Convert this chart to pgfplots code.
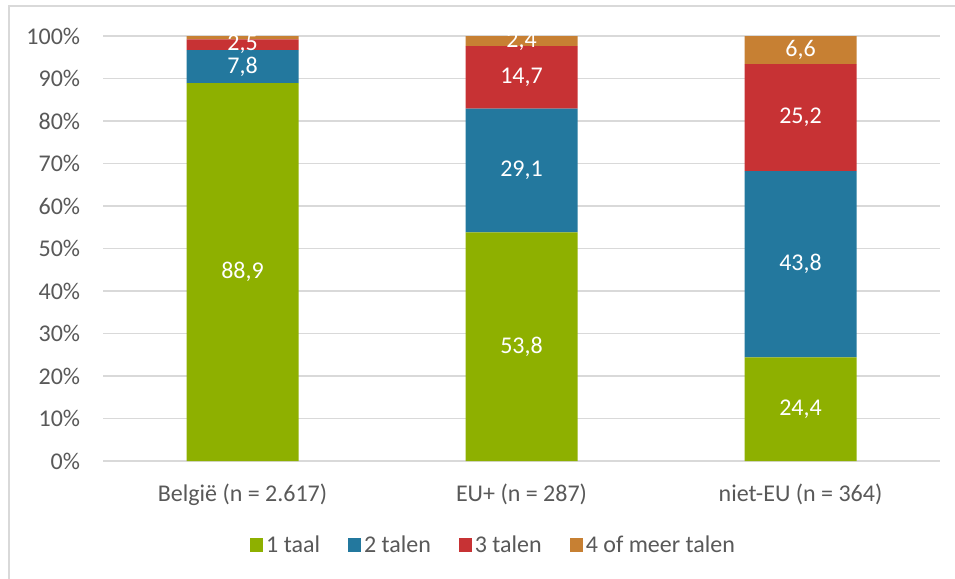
\documentclass[border=0pt]{standalone}
\usepackage{pgfplots}
\pgfplotsset{compat=1.18}
\usepackage{pgfplotstable}
\usepackage{fontspec}
\setmainfont{Carlito}
\definecolor{cgreen}{HTML}{8EB000}
\definecolor{cblue}{HTML}{23789E}
\definecolor{cred}{HTML}{C73234}
\definecolor{corange}{HTML}{C78033}
\definecolor{cgrid}{HTML}{D9D9D9}
\definecolor{ctext}{HTML}{595959}

\pgfplotstableread{
x v lab
0 88.9 88,9
1 53.8 53,8
2 24.4 24,4
}\taalA
\pgfplotstableread{
x v lab
0 7.8 7,8
1 29.1 29,1
2 43.8 43,8
}\taalB
\pgfplotstableread{
x v lab
0 2.5 2,5
1 14.7 14,7
2 25.2 25,2
}\taalC
\pgfplotstableread{
x v lab
0 0.8 {}
1 2.4 2,4
2 6.6 6,6
}\taalD

\begin{document}
\begin{tikzpicture}
\useasboundingbox (0,0) rectangle (716.25pt,-433.5pt);
\fill[white] (0,0) rectangle (716.25pt,-433.5pt);
\draw[cgrid, line width=0.9pt] (6.75pt,-440pt) -- (6.75pt,-4.5pt) -- (720pt,-4.5pt);
\begin{axis}[
  at={(77.25pt,-345.75pt)}, anchor=south west,
  scale only axis, width=627.75pt, height=318.75pt,
  font=\fontsize{18}{21}\selectfont,
  ybar stacked, bar width=84pt,
  xmin=-0.5, xmax=2.5, ymin=0, ymax=100,
  xtick=data,
  xticklabels={{België (n = 2.617)},{EU+ (n = 287)},{niet-EU (n = 364)}},
  ytick={0,10,...,100},
  yticklabel={\pgfmathprintnumber{\tick}\%},
  /pgf/number format/assume math mode=true,
  major tick length=0pt,
  ymajorgrids, major grid style={cgrid, line width=1.1pt},
  axis line style={draw=none},
  tick label style={text=ctext},
  yticklabel style={anchor=east, inner sep=0pt, xshift=-17pt},
  xticklabel style={anchor=center, inner sep=0pt, yshift=-25pt},
  point meta=explicit symbolic,
  nodes near coords={\pgfplotspointmeta},
  every node near coord/.append style={anchor=center, text=white, inner sep=0pt},
  legend columns=4,
  legend style={at={(0.467,-0.1976)}, anchor=center, draw=none, fill=none,
    text=ctext, font=\fontsize{18}{21}\selectfont,
    /tikz/every even column/.append style={column sep=19pt},
    legend cell align=left},
  legend image code/.code={\fill[#1] (0pt,-5pt) rectangle (10pt,5pt);},
]
\addplot[fill=cgreen, draw=none] table[x=x, y=v, meta=lab] {\taalA};
\addplot[fill=cblue, draw=none] table[x=x, y=v, meta=lab] {\taalB};
\addplot[fill=cred, draw=none] table[x=x, y=v, meta=lab] {\taalC};
\addplot[fill=corange, draw=none] table[x=x, y=v, meta=lab] {\taalD};
\legend{1 taal, 2 talen, 3 talen, 4 of meer talen}
\end{axis}
\end{tikzpicture}
\end{document}
